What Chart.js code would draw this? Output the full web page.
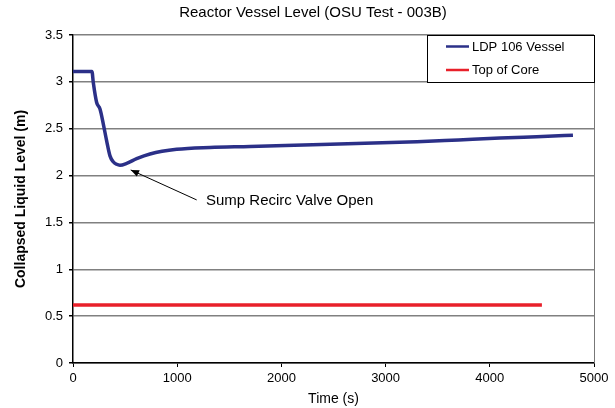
<!DOCTYPE html>
<html>
<head>
<meta charset="utf-8">
<script src="https://cdn.jsdelivr.net/npm/chart.js@4/dist/chart.umd.min.js"></script>
<style>
  html, body { margin: 0; padding: 0; background: #fff; }
  #wrap { width: 615px; height: 408px; }
</style>
</head>
<body>
<div id="wrap"><canvas id="level"></canvas></div>
<script>
  // values
  const ldpTime  = [0, 100, 182, 195, 227, 259, 291, 323, 355, 384, 419, 451, 515, 611, 739, 995, 1315, 1699, 2300, 2800, 3301, 3700, 4098, 4450, 4798];
  const ldpLevel = [3.11, 3.11, 3.11, 2.99, 2.78, 2.71, 2.55, 2.37, 2.21, 2.15, 2.12, 2.11, 2.13, 2.18, 2.23, 2.28, 2.30, 2.31, 2.33, 2.345, 2.36, 2.38, 2.40, 2.415, 2.43];
  const coreTime  = [0, 4500];
  const coreLevel = [0.62, 0.62];
  const seriesNames = ['LDP 106 Vessel', 'Top of Core'];
  const chartTitle = 'Reactor Vessel Level (OSU Test - 003B)';
  const noteText = 'Sump Recirc Valve Open';
  const noteTip  = { x: 554, y: 2.06 };
  const noteTail = { x: 1187, y: 1.74 };
  const noteAt   = { x: 1276, y: 1.73 };

  const FONT = '"Liberation Sans", Arial, sans-serif';
  const toXY = (xs, ys) => xs.map((x, i) => ({ x: x, y: ys[i] }));

  // title, frame on the right, boxed legend and the arrow note
  const extras = {
    id: 'extras',
    afterDraw(chart) {
      const ctx = chart.ctx;
      const a = chart.chartArea;
      const xs = chart.scales.x, ys = chart.scales.y;
      ctx.save();

      ctx.fillStyle = '#000';
      ctx.font = '15px ' + FONT;
      ctx.textAlign = 'center';
      ctx.textBaseline = 'middle';
      ctx.fillText(chartTitle, 313, 13);

      ctx.strokeStyle = '#777';
      ctx.lineWidth = 1;
      ctx.beginPath();
      ctx.moveTo(a.right + 0.5, a.top);
      ctx.lineTo(a.right + 0.5, a.bottom);
      ctx.stroke();

      // legend box
      const bw = 167, bh = 47;
      const bx = a.right - bw, by = a.top;
      ctx.fillStyle = '#fff';
      ctx.fillRect(bx, by, bw, bh);
      ctx.strokeStyle = '#000';
      ctx.lineWidth = 1;
      ctx.strokeRect(bx + 0.5, by + 0.5, bw, bh);
      ctx.font = '13px ' + FONT;
      ctx.textAlign = 'left';
      chart.data.datasets.forEach((ds, i) => {
        const y = by + 11.5 + i * 23.5;
        ctx.strokeStyle = ds.borderColor;
        ctx.lineWidth = 2.5;
        ctx.beginPath();
        ctx.moveTo(bx + 19, y);
        ctx.lineTo(bx + 42, y);
        ctx.stroke();
        ctx.fillStyle = '#000';
        ctx.fillText(ds.label, bx + 45, y + 0.5);
      });

      // arrow note
      const tx = xs.getPixelForValue(noteTip.x), ty = ys.getPixelForValue(noteTip.y);
      const sx = xs.getPixelForValue(noteTail.x), sy = ys.getPixelForValue(noteTail.y);
      ctx.strokeStyle = '#000';
      ctx.fillStyle = '#000';
      ctx.lineWidth = 1;
      ctx.beginPath();
      ctx.moveTo(sx, sy);
      ctx.lineTo(tx, ty);
      ctx.stroke();
      const ang = Math.atan2(ty - sy, tx - sx);
      const len = 9, half = 0.4;
      ctx.beginPath();
      ctx.moveTo(tx, ty);
      ctx.lineTo(tx - len * Math.cos(ang - half), ty - len * Math.sin(ang - half));
      ctx.lineTo(tx - len * Math.cos(ang + half), ty - len * Math.sin(ang + half));
      ctx.closePath();
      ctx.fill();
      ctx.font = '15px ' + FONT;
      ctx.fillText(noteText, xs.getPixelForValue(noteAt.x), ys.getPixelForValue(noteAt.y));
      ctx.restore();
    }
  };

  new Chart(document.getElementById('level'), {
    type: 'line',
    data: {
      datasets: [{
        label: seriesNames[0],
        data: toXY(ldpTime, ldpLevel),
        borderColor: '#2b3088',
        borderWidth: 3.5,
        pointRadius: 0,
        cubicInterpolationMode: 'monotone'
      }, {
        label: seriesNames[1],
        data: toXY(coreTime, coreLevel),
        borderColor: '#e8202a',
        borderWidth: 3.5,
        pointRadius: 0
      }]
    },
    options: {
      responsive: true,
      maintainAspectRatio: false,
      animation: false,
      layout: { padding: { left: 0, right: 21, top: 35, bottom: 0 } },
      plugins: {
        legend: { display: false },
        tooltip: { enabled: false },
        title: { display: false }
      },
      scales: {
        x: {
          type: 'linear',
          min: 0, max: 5000,
          afterFit: s => { s.height = 45; },
          ticks: { stepSize: 1000, color: '#000', padding: 4, maxRotation: 0,
                   font: { family: FONT, size: 13 }, callback: v => String(v) },
          grid: { drawOnChartArea: false, tickColor: '#000', tickLength: 4, lineWidth: 1 },
          border: { color: '#000', width: 1.5 },
          title: { display: true, text: 'Time (s)', color: '#000',
                   font: { family: FONT, size: 14 }, padding: 0 }
        },
        y: {
          min: 0, max: 3.5,
          afterFit: s => { s.width = 73; },
          ticks: { stepSize: 0.5, color: '#000', padding: 6,
                   font: { family: FONT, size: 13 }, callback: v => String(v) },
          grid: { color: '#808080', lineWidth: 1.5, tickColor: '#000', tickLength: 4 },
          border: { color: '#000', width: 1.5 },
          title: { display: true, text: 'Collapsed Liquid Level (m)', color: '#000',
                   font: { family: FONT, size: 14, weight: 'bold' }, padding: { top: 13 } }
        }
      }
    },
    plugins: [extras]
  });
</script>
</body>
</html>
